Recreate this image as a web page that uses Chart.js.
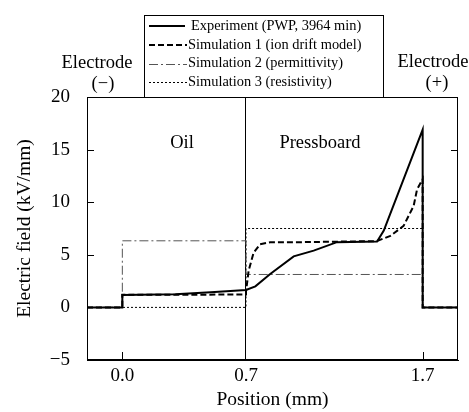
<!DOCTYPE html>
<html>
<head>
<meta charset="utf-8">
<script src="https://cdn.jsdelivr.net/npm/chart.js@4"></script>
<style>
  body { margin: 0; background: #fff; }
  canvas { display: block; }
</style>
</head>
<body>
<canvas id="fieldChart" width="469" height="412"></canvas>
<script>
const expX = [-0.2, 0, 0, 0.3, 0.5, 0.7, 0.753, 0.837, 0.97, 1.083, 1.215, 1.442, 1.48, 1.7, 1.7, 1.9];
const expY = [0, 0, 1.17, 1.25, 1.45, 1.65, 2.0, 3.17, 4.85, 5.4, 6.2, 6.27, 7.3, 16.9, 0, 0];

const sim1X = [-0.2, 0, 0, 0.7, 0.7, 0.715, 0.743, 0.78, 0.837, 1.0, 1.215, 1.44, 1.517, 1.592, 1.649, 1.668, 1.7, 1.7, 1.9];
const sim1Y = [0, 0, 1.2, 1.22, 1.5, 3.5, 5.2, 6.0, 6.2, 6.2, 6.25, 6.3, 6.8, 7.75, 9.65, 11.2, 12.2, 0, 0];

const sim2X = [-0.2, 0, 0, 0.7, 0.7, 1.7, 1.7, 1.9];
const sim2Y = [0, 0, 6.33, 6.33, 3.13, 3.13, 0, 0];

const sim3X = [-0.2, 0.7, 0.7, 1.7, 1.7, 1.9];
const sim3Y = [0, 0, 7.5, 7.5, 0, 0];

const seriesNames = [
  "Experiment (PWP, 3964 min)",
  "Simulation 1 (ion drift model)",
  "Simulation 2 (permittivity)",
  "Simulation 3 (resistivity)",
];

const xTickValues = [0, 0.7, 1.7];
const xTickLabels = ["0.0", "0.7", "1.7"];
const yTickValues = [-5, 0, 5, 10, 15, 20];
const yTickLabels = ["\u22125", "0", "5", "10", "15", "20"];

const serif = "'Liberation Serif', 'Times New Roman', serif";

function points(xs, ys) {
  return xs.map((x, i) => ({ x: x, y: ys[i] }));
}

const styles = [
  { borderColor: "#000", borderWidth: 2, borderDash: [] },
  { borderColor: "#000", borderWidth: 2, borderDash: [6, 3] },
  { borderColor: "#555", borderWidth: 1, borderDash: [9, 3, 2, 3] },
  { borderColor: "#000", borderWidth: 1, borderDash: [2, 2] },
];

const allData = [points(expX, expY), points(sim1X, sim1Y), points(sim2X, sim2Y), points(sim3X, sim3Y)];

const datasets = allData.map((d, i) => ({
  label: seriesNames[i],
  data: d,
  showLine: true,
  pointRadius: 0,
  fill: false,
  tension: 0,
  borderColor: styles[i].borderColor,
  borderWidth: styles[i].borderWidth,
  borderDash: styles[i].borderDash,
}));

// frame, inward ticks, annotations and boxed legend
const decorations = {
  id: "decorations",
  afterDraw(chart) {
    const ctx = chart.ctx;
    const a = chart.chartArea;
    const xs = chart.scales.x;
    const ys = chart.scales.y;
    ctx.save();
    ctx.strokeStyle = "#000";
    ctx.lineWidth = 1;
    ctx.setLineDash([]);
    ctx.strokeRect(a.left + 0.5, a.top + 0.5, a.right - a.left - 1, a.bottom - a.top - 1);

    ctx.beginPath();
    yTickValues.forEach((v) => {
      const y = Math.round(ys.getPixelForValue(v)) + 0.5;
      ctx.moveTo(a.left, y); ctx.lineTo(a.left + 7, y);
      ctx.moveTo(a.right, y); ctx.lineTo(a.right - 7, y);
    });
    [0, 1.7].forEach((v) => {
      const x = Math.round(xs.getPixelForValue(v)) + 0.5;
      ctx.moveTo(x, a.bottom); ctx.lineTo(x, a.bottom - 8);
    });
    ctx.stroke();

    ctx.fillStyle = "#000";
    ctx.font = "18.5px " + serif;
    ctx.textAlign = "center";
    ctx.textBaseline = "middle";
    ctx.fillText("Oil", 182, 143);
    ctx.fillText("Pressboard", 320, 143);
    ctx.fillText("Electrode", 97, 63);
    ctx.fillText("(\u2212)", 103, 84);
    ctx.fillText("Electrode", 433, 62);
    ctx.fillText("(+)", 437, 83);

    // legend box
    const bx = 144, by = 15, bw = 239, bh = 82;
    ctx.fillStyle = "#fff";
    ctx.fillRect(bx, by, bw, bh);
    ctx.strokeStyle = "#000";
    ctx.lineWidth = 1;
    ctx.strokeRect(bx + 0.5, by + 0.5, bw, bh);
    const rows = [26, 45, 63.5, 82];
    const textX = [191, 188, 188, 188];
    ctx.font = "14.4px " + serif;
    ctx.textAlign = "left";
    rows.forEach((ry, i) => {
      ctx.beginPath();
      ctx.strokeStyle = styles[i].borderColor;
      ctx.lineWidth = styles[i].borderWidth;
      ctx.setLineDash(styles[i].borderDash);
      const yy = Math.round(ry) + (styles[i].borderWidth === 1 ? 0.5 : 0);
      ctx.moveTo(149, yy);
      ctx.lineTo(i === 0 ? 185 : 187, yy);
      ctx.stroke();
      ctx.fillStyle = "#000";
      ctx.fillText(seriesNames[i], textX[i], ry);
    });
    ctx.restore();
  },
};

new Chart(document.getElementById("fieldChart"), {
  type: "scatter",
  data: { datasets },
  options: {
    responsive: false,
    animation: false,
    devicePixelRatio: 1,
    layout: { padding: { top: 97, right: 11, left: 0, bottom: 0 } },
    plugins: { legend: { display: false }, tooltip: { enabled: false } },
    scales: {
      x: {
        type: "linear",
        min: -0.2,
        max: 1.9,
        afterBuildTicks(scale) {
          scale.ticks = xTickValues.map((v) => ({ value: v }));
        },
        afterFit(scale) { scale.height = 52; },
        ticks: {
          color: "#000",
          font: { family: serif, size: 19 },
          padding: 5,
          maxRotation: 0,
          callback: (v) => xTickLabels[xTickValues.indexOf(v)],
        },
        grid: {
          drawOnChartArea: true,
          tickLength: 0,
          color: (c) => (c.tick && c.tick.value === 0.7 ? "#000" : "rgba(0,0,0,0)"),
        },
        border: { display: true, color: "#000", width: 1 },
        title: {
          display: true,
          text: "Position (mm)",
          color: "#000",
          font: { family: serif, size: 19.5 },
          padding: { top: 0, bottom: 0 },
        },
      },
      y: {
        min: -5,
        max: 20,
        afterBuildTicks(scale) {
          scale.ticks = yTickValues.map((v) => ({ value: v }));
        },
        afterFit(scale) { scale.width = 87; },
        ticks: {
          color: "#000",
          font: { family: serif, size: 19 },
          padding: 17,
          callback: (v) => yTickLabels[yTickValues.indexOf(v)],
        },
        grid: { drawOnChartArea: false, tickLength: 0 },
        border: { display: true, color: "#000", width: 1 },
        title: {
          display: true,
          text: "Electric field (kV/mm)",
          color: "#000",
          font: { family: serif, size: 19.5 },
          padding: { top: 13, bottom: 0 },
        },
      },
    },
  },
  plugins: [decorations],
});
</script>
</body>
</html>
